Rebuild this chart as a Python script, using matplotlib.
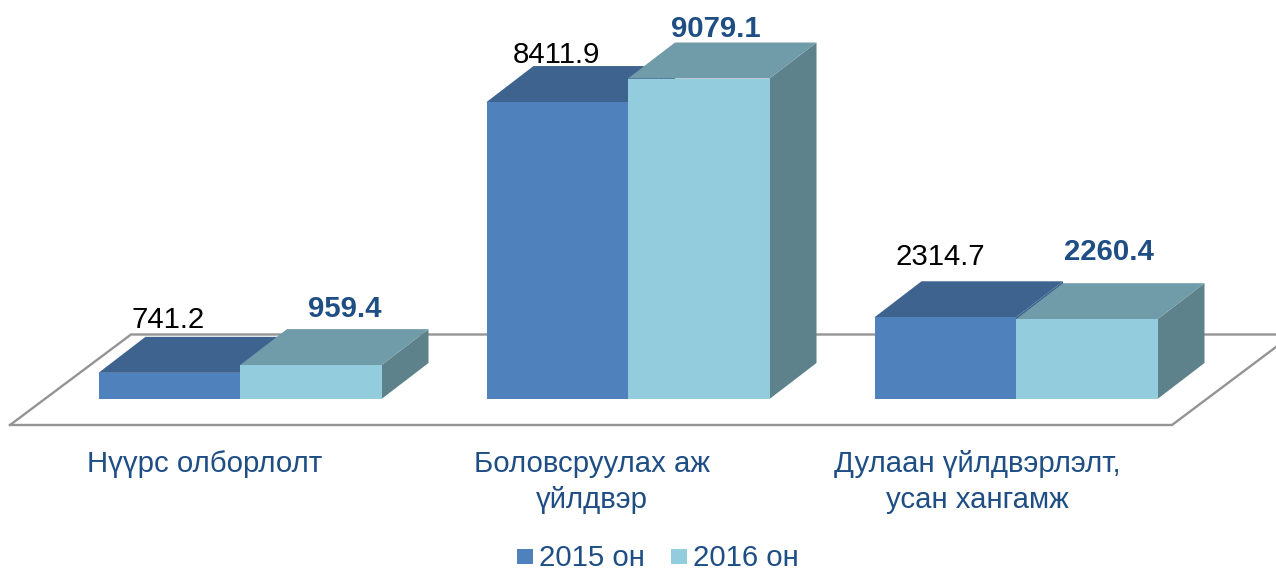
import matplotlib
matplotlib.use("Agg")
import matplotlib.pyplot as plt
from matplotlib.patches import Polygon, Rectangle

categories = ["Нүүрс олборлолт", "Боловсруулах аж\nүйлдвэр", "Дулаан үйлдвэрлэлт,\nусан хангамж"]
series_names = ["2015 он", "2016 он"]
values_2015 = [741.2, 8411.9, 2314.7]
values_2016 = [959.4, 9079.1, 2260.4]
label_2015 = ["741.2", "8411.9", "2314.7"]
label_2016 = ["959.4", "9079.1", "2260.4"]

W, H = 1276, 568
PX_PER_UNIT = 0.0353
BASE = 399
GROUP0, GROUP_STEP = 240, 388
BAR_W = 141.5
DX, DY = 47, 36

plt.rcParams['font.family'] = ['Liberation Sans', 'DejaVu Sans']
fig = plt.figure(figsize=(W / 100, H / 100), dpi=100)
ax = fig.add_axes([0, 0, 1, 1])
ax.set_xlim(0, W)
ax.set_ylim(-(H - BASE) / PX_PER_UNIT, BASE / PX_PER_UNIT)
ax.axis('off')

u = 1 / PX_PER_UNIT
TEXT_C = '#1F4E85'
GREY = '#949494'
FS = 21.2

# floor
fy = -26 * u
by = 64.5 * u
ax.plot([10, 1172, 1276], [fy, fy, 52 * u], color=GREY, lw=1.7, zorder=1, solid_joinstyle='miter')
ax.plot([10, 131, 1276], [fy, by, by], color=GREY, lw=1.7, zorder=1, solid_joinstyle='miter')


def bar3d(x0, v, front, top, side, z):
    x1 = x0 + BAR_W
    d = DY * u
    ax.add_patch(Polygon([(x1, 0), (x1 + DX, d), (x1 + DX, v + d), (x1, v)], fc=side, ec='none', zorder=z))
    ax.add_patch(Polygon([(x0, v), (x0 + DX, v + d), (x1 + DX, v + d), (x1, v)], fc=top, ec='none', zorder=z))
    ax.add_patch(Rectangle((x0, 0), BAR_W, v, fc=front, ec='none', zorder=z + 0.1))


C15 = ('#4F81BD', '#3E638F', '#3E638F')
C16 = ('#93CDDD', '#709BA8', '#5E828C')

off15_x = [70, 69.5, 65.5]
off15_y = [45, 39, 52]
off16_x = [104.5, 87.5, 92.5]
off16_y = [48, 41.5, 59.5]
cat_dx = [-35.5, -36.5, -38.5]

for i, (a, b) in enumerate(zip(values_2015, values_2016)):
    c = GROUP0 + GROUP_STEP * i
    bar3d(c - BAR_W, a, *C15, 2 + i)
    bar3d(c, b, *C16, 2.5 + i)
    ax.text(c - BAR_W + off15_x[i], a + off15_y[i] * u, label_2015[i], ha='center', va='baseline',
            fontsize=FS, color='black', zorder=10)
    ax.text(c + off16_x[i], b + off16_y[i] * u, label_2016[i], ha='center', va='baseline',
            fontsize=FS, fontweight='bold', color=TEXT_C, zorder=10)
    ax.text(c + cat_dx[i], -51 * u, categories[i], ha='center', va='top', fontsize=FS,
            color=TEXT_C, linespacing=1.36, zorder=10)

# legend
for x, col, name in [(517, C15[0], series_names[0]), (671, C16[0], series_names[1])]:
    ax.add_patch(Rectangle((x, -(564 - BASE) * u), 15.5, 15 * u, fc=col, ec='none', zorder=10))
    ax.text(x + 22, -(566 - BASE) * u, name, ha='left', va='baseline', fontsize=FS, color=TEXT_C, zorder=10)

fig.savefig('out.png', dpi=100)
